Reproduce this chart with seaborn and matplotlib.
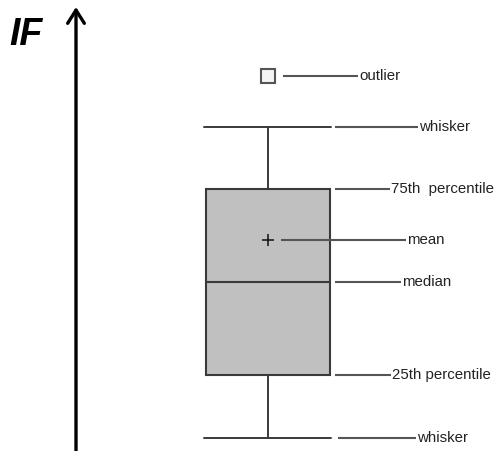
import matplotlib
matplotlib.use("Agg")
import matplotlib.pyplot as plt
import seaborn as sns

# box plot anatomy diagram (values on an arbitrary IF scale)
stat_names = ["outlier", "upper whisker", "q3", "mean", "median", "q1", "lower whisker"]
stat_values = [375, 324, 262, 211, 169, 76, 13]
label_texts = ["outlier", "whisker", "75th  percentile", "mean", "median", "25th percentile", "whisker"]

stats = dict(zip(stat_names, stat_values))

sns.set_style("white")
plt.rcParams["font.family"] = ["Liberation Sans", "DejaVu Sans"]

fig = plt.figure(figsize=(4.99, 4.51), dpi=100)
ax = fig.add_axes([0, 0, 1, 1])
ax.axis("off")

line_col = "#3a3a3a"
box = [{
    "med": stats["median"], "q1": stats["q1"], "q3": stats["q3"],
    "whislo": stats["lower whisker"], "whishi": stats["upper whisker"],
    "mean": stats["mean"], "fliers": [stats["outlier"]],
}]
ax.bxp(box, positions=[268], widths=[124], capwidths=[127],
       patch_artist=True, showmeans=True, showfliers=True,
       boxprops=dict(facecolor="#c0c0c0", edgecolor=line_col, linewidth=1.5),
       medianprops=dict(color=line_col, linewidth=1.5),
       whiskerprops=dict(color=line_col, linewidth=1.4),
       capprops=dict(color=line_col, linewidth=1.4),
       meanprops=dict(marker="+", markersize=9, markeredgecolor="#111111", markeredgewidth=1.1),
       flierprops=dict(marker="s", markersize=9.5, markerfacecolor="#f4f4f4",
                       markeredgecolor="#555555", markeredgewidth=1.5))
ax.set_xlim(0, 499)
ax.set_ylim(0, 451)

# leader lines and labels: (x start, x end) per label
leader_x = [(283, 358), (335, 418), (335, 390), (281, 406), (335, 401), (335, 391), (338, 416)]
for name, text, (x0, x1) in zip(stat_names, label_texts, leader_x):
    y = stats[name]
    ax.plot([x0, x1], [y, y], color="#555555", lw=1.5, solid_capstyle="butt")
    ax.text(x1 + 1.5, y, text, ha="left", va="center", fontsize=10.8, color="#222222")

# vertical IF axis arrow
ax.annotate("", xy=(76, 444), xytext=(76, -5),
            arrowprops=dict(arrowstyle="->,head_length=0.95,head_width=0.6",
                            color="black", lw=2.4, shrinkA=0, shrinkB=0))
ax.text(9, 416, "IF", fontsize=27, fontweight="bold", fontstyle="italic",
        ha="left", va="center", color="black")

fig.savefig("out.png", dpi=100)
